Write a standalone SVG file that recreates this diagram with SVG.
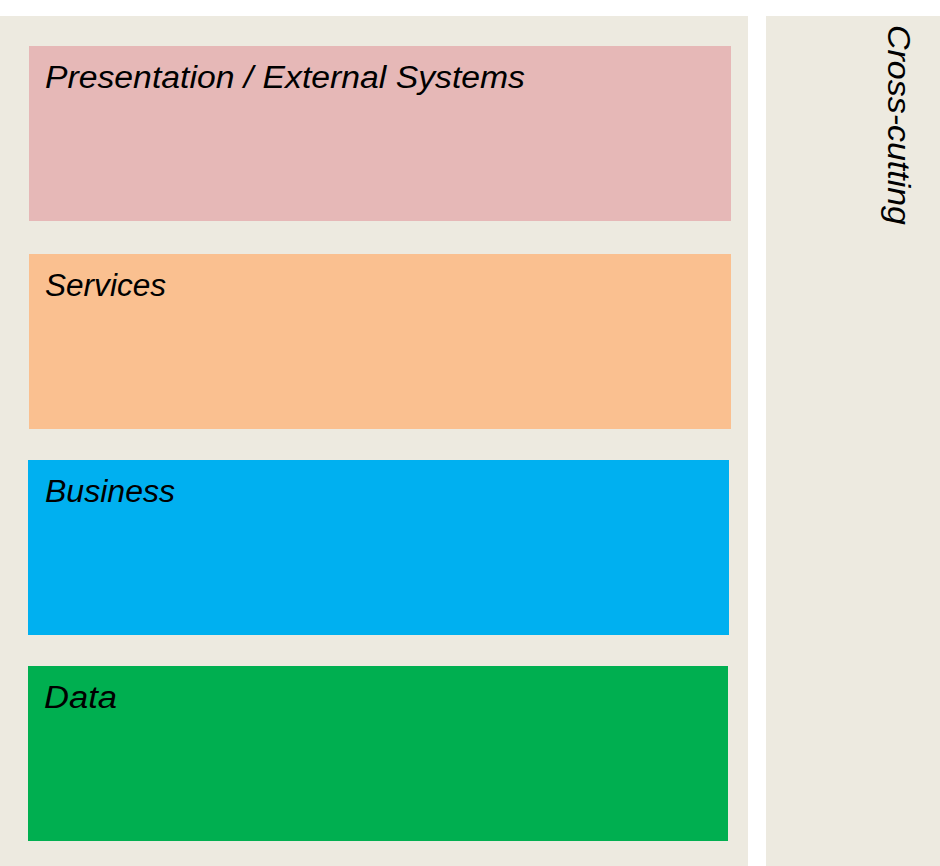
<svg xmlns="http://www.w3.org/2000/svg" width="940" height="866" viewBox="0 0 940 866">
  <style>
    .panel { fill: #EDEAE0; }
    .lbl { font-family: "Liberation Sans", Arial, sans-serif; font-style: italic; font-size: 31px; fill: #000; }
  </style>
  <rect width="940" height="866" fill="#FFFFFF"/>
  <g id="layers-panel">
    <rect class="panel" x="0" y="16" width="748" height="850"/>
  </g>
  <g id="cross-cutting">
    <rect class="panel" x="766" y="16" width="174" height="850"/>
    <text class="lbl" transform="translate(888,25) rotate(90)" textLength="200" lengthAdjust="spacingAndGlyphs">Cross-cutting</text>
  </g>
  <g id="presentation">
    <rect x="29" y="46" width="702" height="175" fill="#E6B8B7"/>
    <text class="lbl" x="45" y="88" textLength="480" lengthAdjust="spacingAndGlyphs">Presentation / External Systems</text>
  </g>
  <g id="services">
    <rect x="29" y="254" width="702" height="175" fill="#FAC090"/>
    <text class="lbl" x="45" y="296" textLength="121" lengthAdjust="spacingAndGlyphs">Services</text>
  </g>
  <g id="business">
    <rect x="28" y="460" width="701" height="175" fill="#00B0F0"/>
    <text class="lbl" x="45" y="502" textLength="130" lengthAdjust="spacingAndGlyphs">Business</text>
  </g>
  <g id="data">
    <rect x="28" y="666" width="700" height="175" fill="#00AF50"/>
    <text class="lbl" x="44" y="708" textLength="73" lengthAdjust="spacingAndGlyphs">Data</text>
  </g>
  <g id="connectors"/>
</svg>
